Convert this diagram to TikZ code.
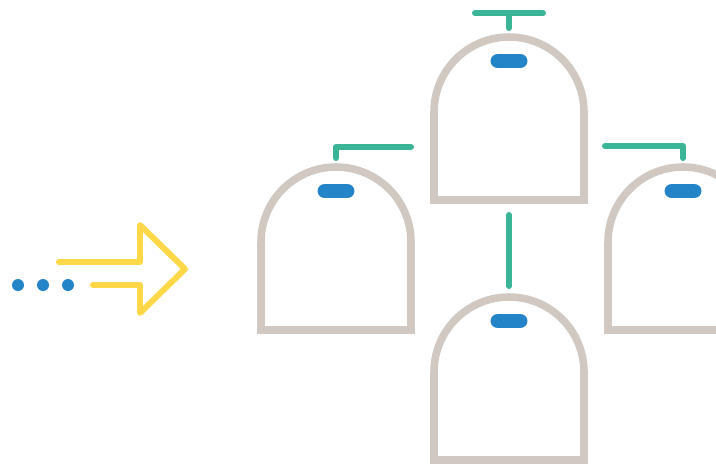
\documentclass[tikz,border=0pt]{standalone}
\usetikzlibrary{calc}
\definecolor{shellgray}{RGB}{208,200,193}
\definecolor{linkgreen}{RGB}{59,181,150}
\definecolor{pillblue}{RGB}{35,132,200}
\definecolor{arrowyellow}{RGB}{255,216,74}
\tikzset{
  shell/.style={draw=shellgray,line width=4.3pt,line join=miter},
  pill/.style={draw=pillblue,line width=8.5pt,line cap=round},
  link/.style={draw=linkgreen,line width=3.4pt,line cap=round,line join=round},
  arrowline/.style={draw=arrowyellow,line width=3.4pt,line cap=round,line join=round},
  bell/.pic={
    \draw[shell] (-75,88) -- (-75,0) arc (180:360:75) -- (75,88) -- cycle;
    \draw[pill] (-11,-51) -- (11,-51);
    \coordinate (-top) at (0,-75);
    \coordinate (-stem) at (0,-84);
    \coordinate (-base) at (0,88);
  }
}

\begin{document}
\begin{tikzpicture}[x=0.02cm,y=-0.02cm]
  \useasboundingbox (0,0) rectangle (716,464);
  \clip (0,0) rectangle (716,464);
  % dome units
  \pic (t) at (509,112) {bell};
  \pic (l) at (336,242) {bell};
  \pic (r) at (683,242) {bell};
  \pic (b) at (509,372) {bell};
  % green links
  \draw[link] (t-stem) -- ++(0,-15) coordinate (tbar);
  \draw[link] ($(tbar)+(-34,0)$) -- ($(tbar)+(34,0)$);
  \draw[link] (l-stem) |- ++(75,-11);
  \draw[link] (r-stem) |- ++(-78,-12);
  \draw[link] ($(t-base)+(0,15)$) -- ($(b-stem)+(0,-2)$);
  % incoming arrow
  \draw[arrowline] (59,262) -- (140,262) -- (140,225) -- (185,269)
    -- (140,313) -- (140,285) -- (93,285);
  \foreach \x in {18,43,68}
    \fill[pillblue] (\x,285) circle (6);
\end{tikzpicture}
\end{document}
